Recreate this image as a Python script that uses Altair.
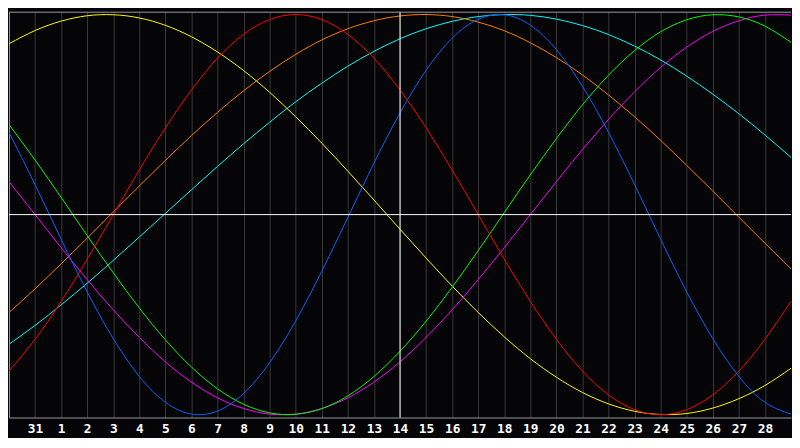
import altair as alt
import pandas as pd

# x positions: day index 0..30 (index 0 = Jan 30, index 15 = today = Feb 14)
day_index = list(range(31))
day_labels = ["31", "1", "2", "3", "4", "5", "6", "7", "8", "9", "10", "11", "12", "13",
              "14", "15", "16", "17", "18", "19", "20", "21", "22", "23", "24", "25",
              "26", "27", "28"]  # shown at day index 1..29
today_index = 15

# values, one per day (range -1 .. 1)
physical = [0.411, 0.150, -0.123, -0.386, -0.620, -0.809, -0.938, -0.997, -0.982, -0.894,
            -0.740, -0.531, -0.283, -0.014, 0.257, 0.508, 0.721, 0.882, 0.976, 0.999,
            0.947, 0.825, 0.641, 0.411, 0.150, -0.123, -0.386, -0.620, -0.809, -0.938, -0.997]
emotional = [-0.782, -0.623, -0.434, -0.223, 0.0, 0.223, 0.434, 0.623, 0.782, 0.901,
             0.975, 1.0, 0.975, 0.901, 0.782, 0.623, 0.434, 0.223, 0.0, -0.223,
             -0.434, -0.623, -0.782, -0.901, -0.975, -1.0, -0.975, -0.901, -0.782, -0.623, -0.434]
intellectual = [0.450, 0.273, 0.086, -0.105, -0.291, -0.467, -0.626, -0.762, -0.871, -0.948,
                -0.991, -0.998, -0.970, -0.906, -0.809, -0.683, -0.533, -0.363, -0.180, 0.010,
                0.199, 0.380, 0.549, 0.697, 0.820, 0.914, 0.974, 0.999, 0.988, 0.942, 0.861]
intuitive = [0.165, 0.0, -0.165, -0.325, -0.476, -0.614, -0.736, -0.837, -0.916, -0.969,
             -0.997, -0.997, -0.969, -0.916, -0.837, -0.736, -0.614, -0.476, -0.325, -0.165,
             0.0, 0.165, 0.325, 0.476, 0.614, 0.736, 0.837, 0.916, 0.969, 0.997, 0.997]
aesthetic = [0.854, 0.920, 0.967, 0.994, 0.999, 0.983, 0.946, 0.889, 0.813, 0.720,
             0.611, 0.489, 0.357, 0.217, 0.073, -0.073, -0.217, -0.357, -0.489, -0.611,
             -0.720, -0.813, -0.889, -0.946, -0.983, -0.999, -0.994, -0.967, -0.920, -0.854, -0.768]
awareness = [-0.489, -0.371, -0.246, -0.118, 0.013, 0.143, 0.271, 0.395, 0.511, 0.619,
             0.716, 0.801, 0.873, 0.929, 0.969, 0.993, 1.0, 0.990, 0.962, 0.919,
             0.859, 0.785, 0.698, 0.598, 0.489, 0.371, 0.246, 0.118, -0.013, -0.143, -0.271]
spiritual = [-0.648, -0.554, -0.451, -0.343, -0.229, -0.112, 0.006, 0.124, 0.241, 0.354,
             0.462, 0.564, 0.657, 0.742, 0.816, 0.879, 0.929, 0.966, 0.990, 1.0,
             0.996, 0.977, 0.945, 0.900, 0.842, 0.773, 0.692, 0.602, 0.504, 0.398, 0.286]

series_names = ["spiritual", "awareness", "aesthetic", "intuitive", "intellectual", "emotional", "physical"]
series_values = [spiritual, awareness, aesthetic, intuitive, intellectual, emotional, physical]
series_colors = ["#00ffff", "#ff8000", "#ffff00", "#ff00ff", "#00ff00", "#ff0000", "#0a64ff"]

rows = []
for name, vals in zip(series_names, series_values):
    for i, v in zip(day_index, vals):
        rows.append({"i": i, "v": v, "series": name})
df = pd.DataFrame(rows)

W, H = 792, 411
x_scale = alt.Scale(domain=[0, 30], nice=False, zero=False)
y_scale = alt.Scale(domain=[-1.0142, 1.0142], nice=False, zero=False)
label_expr = "[" + ",".join(f"'{d}'" for d in day_labels) + "][datum.value - 1]"

x_axis = alt.Axis(values=list(range(1, 30)), labelExpr=label_expr, grid=True,
                  gridColor="#3a3a3a", gridWidth=1, ticks=False,
                  domainColor="#9a9a9a", labelColor="#ffffff",
                  labelFont="DejaVu Sans Mono", labelFontWeight="bold",
                  labelFontSize=13, labelPadding=5, labelOverlap=False,
                  labelBound=False, labelFlush=False, title=None)
y_axis = alt.Axis(labels=False, ticks=False, grid=False, domainColor="#9a9a9a", title=None)

lines = alt.Chart(df).mark_line(strokeWidth=1, interpolate="natural", clip=True).encode(
    x=alt.X("i:Q", scale=x_scale, axis=x_axis),
    y=alt.Y("v:Q", scale=y_scale, axis=y_axis),
    color=alt.Color("series:N", scale=alt.Scale(domain=series_names, range=series_colors), legend=None),
    order=alt.Order("i:Q"),
)

hline = alt.Chart(pd.DataFrame({"v": [0.0]})).mark_rule(color="#ffffff", strokeWidth=1).encode(
    y=alt.Y("v:Q", scale=y_scale, axis=y_axis)
)
vline = alt.Chart(pd.DataFrame({"i": [today_index]})).mark_rule(color="#ffffff", strokeWidth=1).encode(
    x=alt.X("i:Q", scale=x_scale, axis=x_axis)
)
top_border = alt.Chart(pd.DataFrame({"a": [0]})).mark_rule(color="#9a9a9a", strokeWidth=1).encode(
    x=alt.value(0), x2=alt.value(W), y=alt.value(0.5)
)

chart = alt.layer(lines, hline, vline, top_border).properties(
    width=W, height=H, padding=0, background="#050508"
).configure_view(stroke=None)

chart.save("out.html", embed_options={"renderer": "svg", "actions": False})
